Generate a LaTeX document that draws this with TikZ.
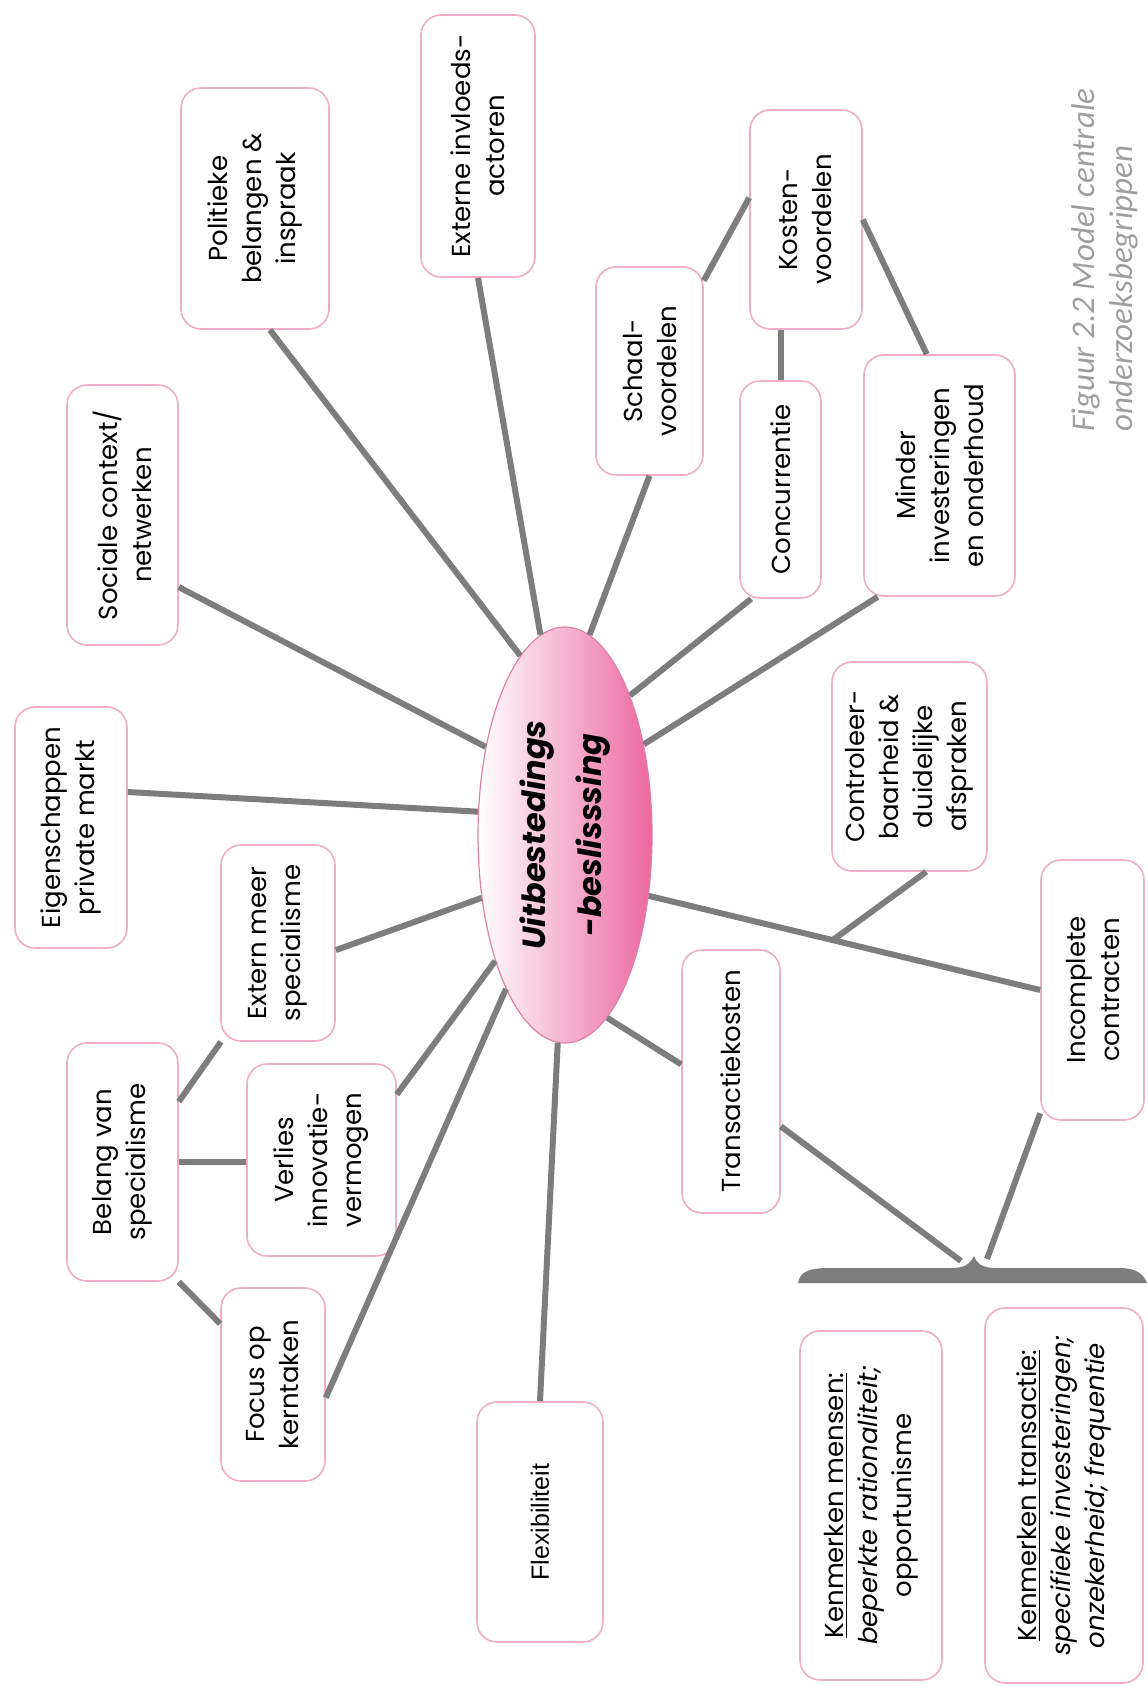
\documentclass[tikz,border=0pt]{standalone}
\usepackage{fontspec}
\setmainfont{Poppins}
\newfontfamily\capfont{Carlito}
\newfontfamily\arialfont{Liberation Sans}
\usetikzlibrary{positioning, calc, shapes}

\definecolor{boxpink}{RGB}{240,172,200}
\definecolor{linkgray}{RGB}{125,125,125}
\definecolor{ellpink}{RGB}{236,104,158}
\definecolor{ellline}{RGB}{222,128,168}
\definecolor{captgray}{RGB}{158,158,158}

\tikzset{
  concept/.style={draw=boxpink, line width=0.8pt, fill=white, rounded corners=10pt,
    rotate=90, align=center, inner sep=3pt, font=\fontsize{13}{17}\selectfont},
  link/.style={draw=linkgray, line width=3pt},
}

\begin{document}
\begin{tikzpicture}[x=0.5pt, y=-0.5pt]
  \useasboundingbox (0,0) rectangle (1147,1686);

  % central decision
  \node[ellipse, rotate=90, draw=ellline, line width=0.6pt, left color=white, right color=ellpink,
        minimum width=208pt, minimum height=87pt, align=center,
        font=\fontsize{16}{28}\selectfont\bfseries\itshape] (ell) at (565,835) {Uitbestedings\\-beslisssing};

  % factors round the decision
  \node[concept, minimum width=120.5pt, minimum height=56pt] (eigen) at (71,827.5) {Eigenschappen\\private markt};
  \node[concept, minimum width=130pt, minimum height=55.5pt] (sociale) at (122.5,515) {Sociale context/\\netwerken};
  \node[concept, minimum width=120.5pt, minimum height=74pt] (politieke) at (255,208.5) {Politieke\\belangen \&\\inspraak};
  \node[concept, minimum width=131pt, minimum height=57pt] (externe) at (478,146) {Externe invloeds-\\actoren};
  \node[concept, minimum width=104pt, minimum height=53.5pt] (schaal) at (649.5,371) {Schaal-\\voordelen};
  \node[concept, minimum width=109.5pt, minimum height=56pt] (kosten) at (806,219.5) {Kosten-\\voordelen};
  \node[concept, minimum width=108.5pt, minimum height=40.5pt] (concurrentie) at (780.5,489.5) {Concurrentie};
  \node[concept, minimum width=120.5pt, minimum height=75.5pt] (minder) at (939.5,475.5) {Minder\\investeringen\\en onderhoud};
  \node[concept, minimum width=104.5pt, minimum height=77.5pt] (controleer) at (909.5,766.5) {Controleer-\\baarheid \&\\duidelijke\\afspraken};
  \node[concept, minimum width=130pt, minimum height=51.5pt] (incomplete) at (1092.5,990) {Incomplete\\contracten};
  \node[concept, minimum width=131.5pt, minimum height=49pt] (transactie) at (731,1081.5) {Transactiekosten};
  \node[concept, minimum width=120pt, minimum height=63pt, font=\arialfont\fontsize{12.5}{16}\selectfont] (flex) at (540,1522) {Flexibiliteit};
  \node[concept, minimum width=96.5pt, minimum height=52pt] (focus) at (273,1384.5) {Focus op\\kerntaken};
  \node[concept, minimum width=96pt, minimum height=74.5pt] (verlies) at (321.5,1160) {Verlies\\innovatie-\\vermogen};
  \node[concept, minimum width=119pt, minimum height=55.5pt] (belang) at (122.5,1162) {Belang van\\specialisme};
  \node[concept, minimum width=98pt, minimum height=57pt] (extern) at (278,943) {Extern meer\\specialisme};

  % characteristics under the brace
  \node[concept, minimum width=174.5pt, minimum height=71pt] (mensen) at (871,1505.5)
    {\underline{Kenmerken mensen:}\\\textit{beperkte rationaliteit;}\\opportunisme};
  \node[concept, minimum width=187.5pt, minimum height=79pt] (kentrans) at (1064,1495.5)
    {\underline{Kenmerken transactie:}\\\textit{specifieke investeringen;}\\\textit{onzekerheid; frequentie}};

  % brace
  \fill[linkgray] (798,1283) .. controls (800,1272) and (808,1268) .. (830,1268) -- (955,1268)
    .. controls (967,1267) and (971,1262) .. (974,1256) .. controls (976,1262) and (980,1267) .. (993,1268)
    -- (1120,1268) .. controls (1137,1268) and (1144,1275) .. (1147,1283) -- cycle;
  \coordinate (tipl) at (961,1261);
  \coordinate (tipr) at (987,1259);

  % caption
  \node[rotate=90, anchor=west, align=left, text=captgray, inner sep=0pt,
        font=\capfont\itshape\fontsize{16.5}{19}\selectfont] (caption) at (1105,432)
    {Figuur 2.2 Model centrale\\onderzoeksbegrippen};

  % links
  \draw[link] (eigen.-58) -- (ell.75);
  \draw[link] (sociale.-142) -- (ell.42);
  \draw[link] (politieke.-173) -- (ell.14);
  \draw[link] (externe.west) -- (ell.7);
  \draw[link] (schaal.west) -- (ell.-7);
  \draw[link] (schaal.-31) -- (kosten.69);
  \draw[link] (concurrentie.east) -- (concurrentie.east |- kosten.west);
  \draw[link] (kosten.south) -- (minder.6);
  \draw[link] (concurrentie.165) -- (ell.-25);
  \draw[link] (minder.153) -- (ell.-41);
  \draw[link] (ell.-126) -- coordinate[pos=0.47] (split) (incomplete.north);
  \draw[link] (split) -- (controleer.-171);
  \draw[link] (transactie.71) -- (ell.-167);
  \draw[link] (transactie.-132) -- (tipl);
  \draw[link] (incomplete.157) -- (tipr);
  \draw[link] (flex.east) -- (ell.178);
  \draw[link] (focus.-104) -- (ell.159);
  \draw[link] (verlies.-49) -- (ell.151);
  \draw[link] (extern.-97) -- (ell.127);
  \draw[link] (belang.-43) -- (extern.150);
  \draw[link] (belang.south) -- (belang.south -| verlies.north);
  \draw[link] (belang.south west) -- (focus.41);
\end{tikzpicture}
\end{document}
